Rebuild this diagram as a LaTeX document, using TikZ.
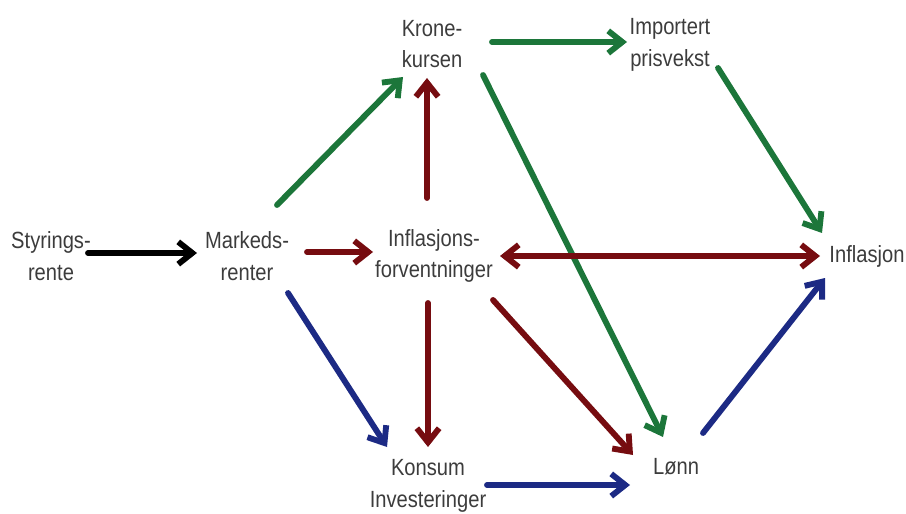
\documentclass[tikz,border=0pt]{standalone}
\usepackage{fontspec}
\setmainfont[FakeStretch=0.86]{Liberation Sans}
\usetikzlibrary{arrows.meta,calc}
\definecolor{pilgreen}{RGB}{28,118,58}
\definecolor{pilred}{RGB}{118,12,16}
\definecolor{pilblue}{RGB}{28,42,132}
\definecolor{txtgray}{RGB}{60,60,60}
\tikzset{
  lbl/.style={align=center, inner sep=0pt, text=txtgray,
    font=\fontsize{20}{27}\selectfont},
  pil/.style={line width=5pt, line cap=round,
    -{Straight Barb[length=12pt,width=19pt]}},
  dobbel/.style={line width=5pt,
    {Straight Barb[length=12pt,width=19pt]}-{Straight Barb[length=12pt,width=19pt]}},
}
\begin{document}
\begin{tikzpicture}[x=0.03cm,y=-0.03cm]
  \useasboundingbox (0,0) rectangle (906,514);
  % begreper
  \node[lbl] (styr)   at (51,256)  {Styrings-\\rente};
  \node[lbl] (mark)   at (247,256) {Markeds-\\renter};
  \node[lbl] (infl)   at (434,256) {Inflasjons-\\forventninger};
  \node[lbl] (infn)   at (867,256) {Inflasjon};
  \node[lbl] (krone)  at (432,44)  {Krone-\\kursen};
  \node[lbl] (import) at (670,45)  {Importert\\prisvekst};
  \node[lbl] (konsum) at (428,486) {Konsum\\Investeringer};
  \node[lbl] (lonn)   at (676,467) {Lønn};
  % styringsrenten
  \draw[pil, black] ($(styr)+(37,-3)$) -- ($(mark)+(-50,-3)$);
  % valutakurskanalen
  \draw[pil, pilgreen] ($(mark)+(30,-51)$) -- ($(krone)+(-29,33)$);
  \draw[pil, pilgreen] ($(krone)+(60,-2)$) -- ($(import)+(-43,-3)$);
  \draw[pil, pilgreen] ($(krone)+(51,31)$) -- ($(lonn)+(-13,-30)$);
  \draw[pil, pilgreen] ($(import)+(48,23)$) -- ($(infn)+(-45,-23)$);
  % forventningskanalen
  \draw[pil, pilred] ($(mark)+(60,-4)$) -- ($(infl)+(-61,-4)$);
  \draw[pil, pilred] ($(infl)+(-7,-58)$) -- ($(krone)+(-5,34)$);
  \draw[pil, pilred] ($(infl)+(-6,47)$) -- ($(konsum)+(0,-39)$);
  \draw[dobbel, pilred] ($(infl)+(66,0)$) -- ($(infn)+(-47,0)$);
  \draw[pil, pilred] ($(infl)+(59,44)$) -- ($(lonn)+(-43,-12)$);
  % etterspoerselskanalen
  \draw[pil, pilblue] ($(mark)+(41,37)$) -- ($(konsum)+(-41,-39)$);
  \draw[pil, pilblue] ($(konsum)+(59,-1)$) -- ($(lonn)+(-46,18)$);
  \draw[pil, pilblue] ($(lonn)+(27,-34)$) -- ($(infn)+(-42,22)$);
\end{tikzpicture}
\end{document}
